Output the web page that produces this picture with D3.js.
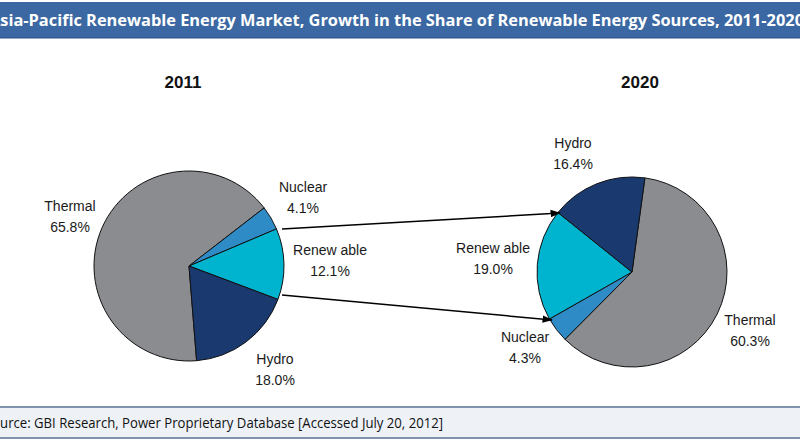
<!DOCTYPE html>
<html><head><meta charset="utf-8">
<script src="https://cdn.jsdelivr.net/npm/d3@7"></script>
<style>html,body{margin:0;padding:0;background:#fff;}svg{display:block;}</style>
</head><body>
<svg id="chart" width="800" height="445"></svg>
<script>
const titleText = "Asia-Pacific Renewable Energy Market, Growth in the Share of Renewable Energy Sources, 2011-2020";
const sourceText = "Source: GBI Research, Power Proprietary Database [Accessed July 20, 2012]";
const categories = ["Thermal", "Nuclear", "Renewable", "Hydro"];
const labelNames = ["Thermal", "Nuclear", "Renew able", "Hydro"];
const years = ["2011", "2020"];
const values2011 = [65.8, 4.1, 12.1, 18.0];
const values2020 = [60.3, 4.3, 19.0, 16.4];
const colors = ["#8a8c8f", "#2f8bc6", "#00b4d0", "#1a3a6f"];

const svg = d3.select("#chart");
const defs = svg.append("defs");
defs.append("marker").attr("id","arr").attr("viewBox","0 0 10 10").attr("refX",9).attr("refY",5)
  .attr("markerWidth",7).attr("markerHeight",7).attr("orient","auto")
  .append("path").attr("d","M0,1.5 L10,5 L0,8.5 Z").attr("fill","#000");

// title bar
svg.append("rect").attr("x",0).attr("y",2).attr("width",800).attr("height",36).attr("fill","#3b68a2");
svg.append("line").attr("x1",0).attr("x2",800).attr("y1",38).attr("y2",38).attr("stroke","#2c5186").attr("stroke-width",1);
svg.append("text").attr("x",-11).attr("y",26).attr("fill","#fff")
  .attr("font-family","'Open Sans', sans-serif").attr("font-weight","bold").attr("font-size",16)
  .attr("textLength",815).attr("lengthAdjust","spacingAndGlyphs").text(titleText);

// source bar
svg.append("rect").attr("x",0).attr("y",407).attr("width",800).attr("height",31).attr("fill","#eef2f7");
svg.append("line").attr("x1",0).attr("x2",800).attr("y1",407).attr("y2",407).attr("stroke","#7f93ad").attr("stroke-width",2);
svg.append("line").attr("x1",0).attr("x2",800).attr("y1",438).attr("y2",438).attr("stroke","#7f93ad").attr("stroke-width",2);
svg.append("text").attr("x",-15).attr("y",428).attr("fill","#111")
  .attr("font-family","'Open Sans', sans-serif").attr("font-size",14)
  .attr("textLength",458).attr("lengthAdjust","spacingAndGlyphs").text(sourceText);

const r = 95;
const arc = d3.arc().innerRadius(0).outerRadius(r);
const deg = Math.PI/180;

const pies = [
  {year: years[0], values: values2011, cx: 189, cy: 266, start: 175.4, yx: 183,
   labels: [[70,206],[303,187],[330,250],[275,359]]},
  {year: years[1], values: values2020, cx: 632, cy: 272, start: 7.8, yx: 640,
   labels: [[750,320],[525,337],[493,248],[573,143]]}
];

pies.forEach(p => {
  const pie = d3.pie().sort(null).value(d => d)
    .startAngle(p.start*deg).endAngle(p.start*deg + 2*Math.PI);
  const g = svg.append("g").attr("transform", `translate(${p.cx},${p.cy})`);
  g.selectAll("path").data(pie(p.values)).join("path")
    .attr("d", arc).attr("fill", (d,i) => colors[i]).attr("stroke","#111").attr("stroke-width",1);
  svg.append("text").attr("x",p.yx).attr("y",88).attr("text-anchor","middle")
    .attr("font-family","'Liberation Sans', Arial, sans-serif").attr("font-weight","bold").attr("font-size",17)
    .attr("fill","#111").text(p.year);
  p.values.forEach((v,i) => {
    const t = svg.append("text").attr("text-anchor","middle")
      .attr("font-family","'Liberation Sans', Arial, sans-serif").attr("font-size",14).attr("fill","#1a1a1a");
    t.append("tspan").attr("x",p.labels[i][0]).attr("y",p.labels[i][1]+5).text(labelNames[i]);
    t.append("tspan").attr("x",p.labels[i][0]).attr("y",p.labels[i][1]+26).text(v.toFixed(1)+"%");
  });
});

// arrows
const arrows = [[[282,229],[560,213]],[[282,295],[552,320]]];
arrows.forEach(a => {
  svg.append("line").attr("x1",a[0][0]).attr("y1",a[0][1]).attr("x2",a[1][0]).attr("y2",a[1][1])
    .attr("stroke","#000").attr("stroke-width",1.5).attr("marker-end","url(#arr)");
});
</script>
</body></html>
